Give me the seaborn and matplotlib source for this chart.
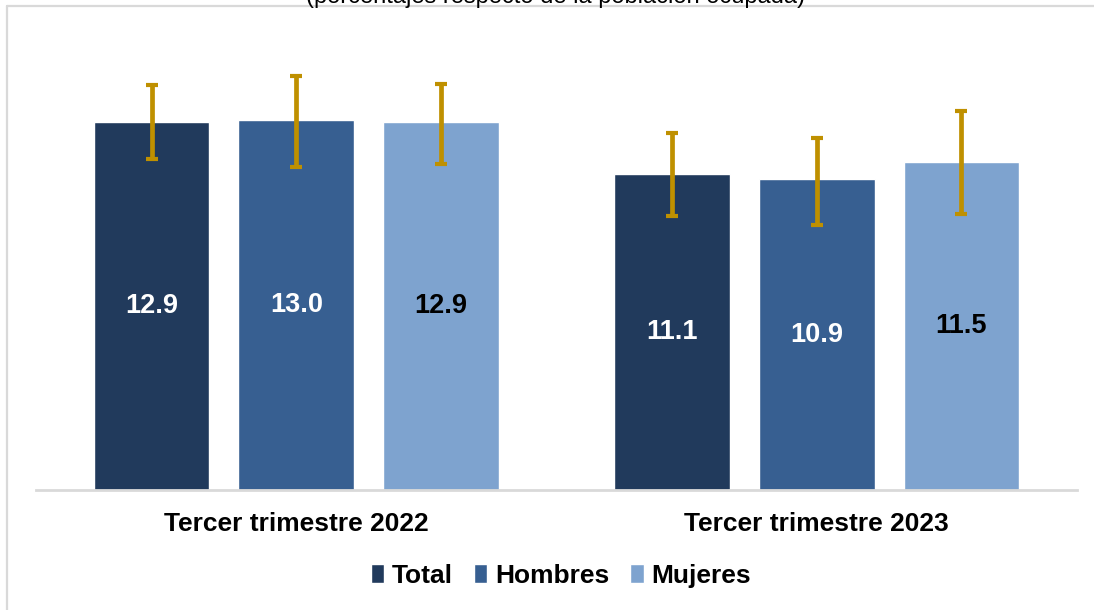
import numpy as np
import pandas as pd
import matplotlib
matplotlib.use("Agg")
import matplotlib.pyplot as plt
import seaborn as sns
from matplotlib.lines import Line2D

# ---- data ----
periods = ["Tercer trimestre 2022", "Tercer trimestre 2023"]
series = ["Total", "Hombres", "Mujeres"]
total = [12.9, 11.1]
hombres = [13.0, 10.9]
mujeres = [12.9, 11.5]
total_lo = [11.60, 9.62]
total_hi = [14.21, 12.54]
hombres_lo = [11.33, 9.31]
hombres_hi = [14.52, 12.36]
mujeres_lo = [11.43, 9.67]
mujeres_hi = [14.25, 13.30]
subtitle = "(porcentajes respecto de la población ocupada)"

colors = ["#213A5C", "#375F91", "#7EA3CF"]
label_colors = ["white", "white", "black"]
err_color = "#BF9000"

sns.set_theme(style="white")
plt.rcParams['font.family'] = ['Liberation Sans', 'DejaVu Sans']
plt.rcParams['text.color'] = 'black'

df = pd.DataFrame({
    "periodo": periods * 3,
    "serie": np.repeat(series, len(periods)),
    "valor": total + hombres + mujeres,
})
lows = [total_lo, hombres_lo, mujeres_lo]
highs = [total_hi, hombres_hi, mujeres_hi]

fig = plt.figure(figsize=(10.94, 6.10), dpi=100)
ax = fig.add_axes([36 / 1094, 1 - 490 / 610, 1041 / 1094, 456 / 610])

sns.barplot(data=df, x="periodo", y="valor", hue="serie", order=periods,
            hue_order=series, palette=colors, width=0.834, gap=0.2,
            saturation=1, errorbar=None, ax=ax, legend=True)

bar_containers = list(ax.containers)
for i, cont in enumerate(bar_containers):
    xs = [b.get_x() + b.get_width() / 2 for b in cont]
    ys = [b.get_height() for b in cont]
    lo = [y - l for y, l in zip(ys, lows[i])]
    hi = [h - y for y, h in zip(ys, highs[i])]
    ax.errorbar(xs, ys, yerr=[lo, hi], fmt="none", ecolor=err_color,
                elinewidth=3.4, capsize=4.2, capthick=3, zorder=4)
    ax.bar_label(cont, fmt="%.1f", label_type="center", color=label_colors[i],
                 fontsize=19.5, fontweight="bold")

ax.set_ylim(0, 16)
ax.set_xlim(-0.5, 1.5)
ax.set_xlabel("")
ax.set_ylabel("")
ax.set_yticks([])
for s in ["top", "right", "left"]:
    ax.spines[s].set_visible(False)
ax.spines["bottom"].set_color("#D9D9D9")
ax.spines["bottom"].set_linewidth(2)
ax.tick_params(axis="x", length=0, pad=16, labelsize=19, labelcolor="black")
for t in ax.get_xticklabels():
    t.set_fontweight("bold")

leg = ax.legend(loc="center", bbox_to_anchor=(561 / 1094, 1 - 576 / 610),
                bbox_transform=fig.transFigure, ncol=3, frameon=False,
                handlelength=0.5, handleheight=0.75, handletextpad=0.3,
                columnspacing=0.8, prop=dict(weight="bold", size=19))
for t in leg.get_texts():
    t.set_color("black")

# chart frame (top and left border lines) and clipped subtitle
fig.add_artist(Line2D([7 / 1094, 1], [1 - 5.5 / 610, 1 - 5.5 / 610],
                      transform=fig.transFigure, color="#D9D9D9", lw=1.6))
fig.add_artist(Line2D([7 / 1094, 7 / 1094], [0, 1 - 5.5 / 610],
                      transform=fig.transFigure, color="#D9D9D9", lw=1.6))
fig.text(555 / 1094, 1 - 3.5 / 610, subtitle, ha="center", va="baseline",
         fontsize=17, color="black")

fig.savefig("out.png", dpi=100)
